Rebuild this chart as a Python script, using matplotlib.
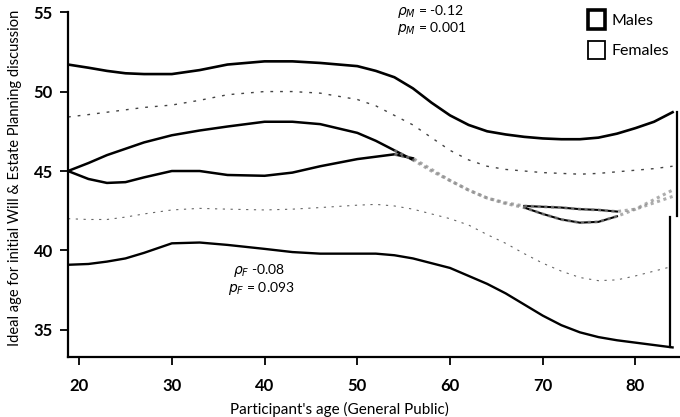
import numpy as np
import matplotlib
matplotlib.use('Agg')
import matplotlib.pyplot as plt
from matplotlib.patches import Patch

plt.rcParams['font.family'] = ['Lato', 'DejaVu Sans']

# ages (x) and the curves
ages = [18.8, 21, 23, 25, 27, 30, 33, 36, 40, 43, 46, 50, 52, 54, 56, 58, 60,
        62, 64, 66, 68, 70, 72, 74, 76, 78, 80, 82, 84]

male_upper = [51.7, 51.5, 51.3, 51.15, 51.1, 51.1, 51.35, 51.7, 51.9, 51.9, 51.8, 51.6,
              51.3, 50.9, 50.2, 49.3, 48.5, 47.9, 47.5, 47.3, 47.15, 47.05, 47.0, 47.0,
              47.1, 47.35, 47.7, 48.1, 48.7]
male_mid = [48.4, 48.55, 48.7, 48.85, 49.0, 49.15, 49.45, 49.8, 50.0, 50.0, 49.9, 49.5,
            49.1, 48.5, 47.9, 47.1, 46.3, 45.7, 45.3, 45.1, 45.0, 44.9, 44.85, 44.8,
            44.85, 44.95, 45.05, 45.15, 45.3]
male_lower = [45.0, 44.5, 44.25, 44.3, 44.6, 45.0, 45.0, 44.75, 44.7, 44.9, 45.3, 45.75,
              45.9, 46.05, 45.8, 45.1, 44.4, 43.8, 43.3, 43.0, 42.8, 42.75, 42.7, 42.6,
              42.55, 42.45, 42.6, 43.0, 43.4]

female_upper = [45.0, 45.5, 46.0, 46.4, 46.8, 47.25, 47.55, 47.8, 48.1, 48.1, 47.95, 47.4,
                46.9, 46.3, 45.7, 45.0, 44.4, 43.8, 43.3, 42.95, 42.7, 42.3, 41.95, 41.75,
                41.8, 42.15, 42.6, 43.2, 43.8]
female_mid = [42.0, 41.95, 41.95, 42.1, 42.3, 42.55, 42.65, 42.6, 42.55, 42.6, 42.7, 42.85,
              42.9, 42.8, 42.6, 42.3, 42.0, 41.6, 41.0, 40.45, 39.8, 39.2, 38.7, 38.3,
              38.1, 38.15, 38.4, 38.7, 39.0]
female_lower = [39.1, 39.15, 39.3, 39.5, 39.85, 40.45, 40.5, 40.35, 40.1, 39.9, 39.8, 39.8,
                39.8, 39.7, 39.5, 39.2, 38.9, 38.4, 37.9, 37.3, 36.6, 35.9, 35.3, 34.85,
                34.55, 34.35, 34.2, 34.05, 33.9]

x = np.array(ages)

fig = plt.figure(figsize=(6.8, 4.17), dpi=100)
ax = fig.add_axes([0.1, 0.144, 0.9, 0.827])

# outer band lines
ax.plot(x, male_upper, color='black', lw=1.9)
ax.plot(x, female_lower, color='black', lw=1.7)

# inner lines: solid where visible, grey speckle where the bands overlap
for y in [male_lower, female_upper]:
    y = np.array(y)
    ax.plot(np.where(x <= 56, x, np.nan), np.where(x <= 56, y, np.nan), color='black', lw=1.8)
    m = (x >= 68) & (x <= 78)
    ax.plot(x[m], y[m], color='black', lw=1.5)
    ax.plot(x[x >= 54], y[x >= 54], color='#8a8a8a', lw=2.2, ls=(0, (1, 1.2)), alpha=0.7)

# estimate lines (dotted)
ax.plot(x, male_mid, color='#444444', lw=1.0, ls=(0, (2, 5)))
ax.plot(x, female_mid, color='#666666', lw=0.8, ls=(0, (2, 5)))

# right edges of the bands
ax.plot([84.5, 84.5], [male_upper[-1], male_lower[-1] - 1.2], color='black', lw=1.6)
ax.plot([83.7, 83.7], [female_upper[-1] - 1.7, female_lower[-1]], color='black', lw=1.6)

ax.set_xlim(18.8, 84.8)
ax.set_ylim(33.3, 55)
ax.set_xticks([20, 30, 40, 50, 60, 70, 80])
ax.set_yticks([35, 40, 45, 50, 55])
ax.tick_params(labelsize=12, length=6, width=1.3, direction='out')
ax.tick_params(axis='x', pad=9)
ax.tick_params(axis='y', pad=5)
for lab in ax.get_xticklabels() + ax.get_yticklabels():
    lab.set_fontweight('bold')
for s in ['top', 'right']:
    ax.spines[s].set_visible(False)
for s in ['left', 'bottom']:
    ax.spines[s].set_linewidth(1.6)

ax.set_xlabel("Participant's age (General Public)", fontsize=11)
ax.set_ylabel('Ideal age for initial Will & Estate Planning discussion', fontsize=10.5)
ax.xaxis.set_label_coords(0.443, -0.13)
ax.yaxis.set_label_coords(-0.075, 0.52)

# statistics
ax.text(54.3, 55.05, r'$\rho_M$ = -0.12', fontsize=10, va='center')
ax.text(54.3, 53.95, r'$p_M$ = 0.001', fontsize=10, va='center')
ax.text(36.6, 38.75, r'$\rho_F$ -0.08', fontsize=10, va='center')
ax.text(36.1, 37.6, r'$p_F$ = 0.093', fontsize=10, va='center')

handles = [Patch(facecolor='white', edgecolor='black', lw=2.6, label='Males'),
           Patch(facecolor='white', edgecolor='black', lw=1.3, label='Females')]
fig.legend(handles=handles, loc='upper left', bbox_to_anchor=(0.843, 1.01),
           frameon=False, fontsize=11.5, handlelength=1.1, handleheight=1.4,
           handletextpad=0.4, labelspacing=0.75)

plt.savefig('out.png', dpi=100)
